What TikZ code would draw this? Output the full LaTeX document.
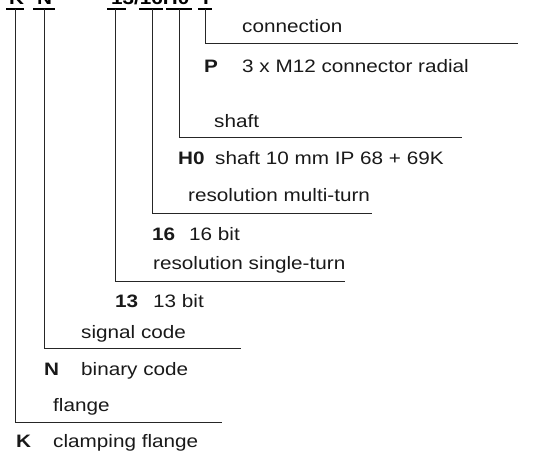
\documentclass[tikz,border=0pt]{standalone}
\usepackage{fontspec}
\setmainfont[FakeStretch=1.15]{Liberation Sans}
\begin{document}
\begin{tikzpicture}[x=1pt,y=-1pt,
  lbl/.style={inner sep=0pt,anchor=base west,font=\fontsize{18}{21}\selectfont,text=black!90},
  key/.style={lbl,font=\fontsize{18}{21}\selectfont\bfseries},
  code/.style={inner sep=0pt,anchor=base west,font=\fontsize{18}{21}\selectfont\bfseries},
  leader/.style={draw=black!85,line width=0.8pt},
  bar/.style={draw=black,line width=2pt}]
\useasboundingbox (0,0) rectangle (537,452);
\clip (0,0) rectangle (537,452);
% clipped code line at top
\node[code] (cK) at (9,5) {K};
\node[code] (cN) at (37,5) {N};
\node[code] (c13) at (111,5) {13/16H0};
\node[code] (cP) at (203,5) {P};
% markers under the code
\coordinate (tK) at (15,9.5);
\coordinate (tN) at (44,9.5);
\coordinate (t13) at (115,9.5);
\coordinate (t16) at (152,9.5);
\coordinate (tH) at (179,9.5);
\coordinate (tP) at (205,9.5);
\draw[bar] (6,9.5) -- (24,9.5);
\draw[bar] (33,9.5) -- (55,9.5);
\draw[bar] (107,9.5) -- (126,9.5);
\draw[bar] (139,9.5) -- (163,9.5);
\draw[bar] (166,9.5) -- (192,9.5);
\draw[bar] (198,9.5) -- (212,9.5);
% corners and ends
\coordinate (bP) at (205,43);   \coordinate (eP) at (518,43);
\coordinate (bH) at (179,137);  \coordinate (eH) at (462,137);
\coordinate (b16) at (152,213); \coordinate (e16) at (372,213);
\coordinate (b13) at (115,281); \coordinate (e13) at (345,281);
\coordinate (bN) at (44,348);   \coordinate (eN) at (241,348);
\coordinate (bK) at (15,422);   \coordinate (eK) at (222,422);
\draw[leader] (tP) -- (bP) -- (eP);
\draw[leader] (tH) -- (bH) -- (eH);
\draw[leader] (t16) -- (b16) -- (e16);
\draw[leader] (t13) -- (b13) -- (e13);
\draw[leader] (tN) -- (bN) -- (eN);
\draw[leader] (tK) -- (bK) -- (eK);
% labels
\node[lbl] (connection) at (242,33) {connection};
\node[key] (kP) at (204,72) {P};
\node[lbl] (dP) at (242,72) {3 x M12 connector radial};
\node[lbl] (shaft) at (214,127) {shaft};
\node[key] (kH) at (178,164) {H0};
\node[lbl] (dH) at (215,164) {shaft 10 mm IP 68 + 69K};
\node[lbl] (multi) at (188,201) {resolution multi-turn};
\node[key] (k16) at (152,240) {16};
\node[lbl] (d16) at (189,240) {16 bit};
\node[lbl] (single) at (153,269) {resolution single-turn};
\node[key] (k13) at (115,307) {13};
\node[lbl] (d13) at (153,307) {13 bit};
\node[lbl] (signal) at (81,338) {signal code};
\node[key] (kN) at (44,375) {N};
\node[lbl] (dN) at (81,375) {binary code};
\node[lbl] (flange) at (53,411) {flange};
\node[key] (kK) at (16,447) {K};
\node[lbl] (dK) at (53,447) {clamping flange};
\end{tikzpicture}
\end{document}
